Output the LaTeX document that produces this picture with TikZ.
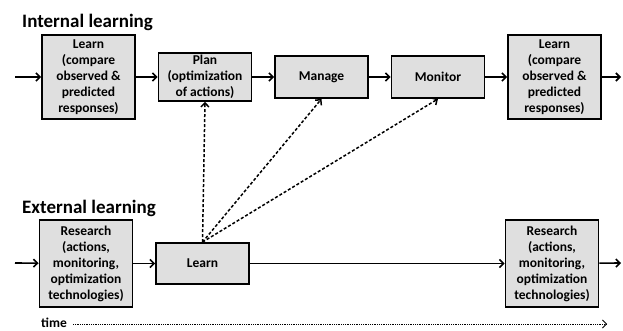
\documentclass[tikz,border=0pt]{standalone}
\usepackage{fontspec}
\setmainfont{Carlito}
\usetikzlibrary{shapes,arrows,arrows.meta,positioning}

\begin{document}
\begin{tikzpicture}[x=1pt, y=1pt, node distance=116.5pt, auto, >={Straight Barb[length=4pt,width=8pt]}]
    % Define styles
    \tikzstyle{stage} = [rectangle, minimum width=93pt, text centered, align=center, draw=black, line width=1.8pt, fill=gray!25, font=\bfseries\fontsize{13.5}{16}\selectfont, inner sep=1pt]
    \tikzstyle{flow} = [->, line width=1.6pt]
    \tikzstyle{link} = [->, line width=1.5pt, dash pattern=on 3pt off 2pt]
    \tikzstyle{heading} = [font=\bfseries\fontsize{19}{22}\selectfont, anchor=west, inner sep=0pt]

    \useasboundingbox (0,0) rectangle (623,-331);

    % Nodes
    \node[heading] (internal) at (22,-22) {Internal learning};
    \node[stage, minimum height=84pt] (learn_in) at (88.5,-77) {Learn\\(compare\\observed \&\\predicted\\responses)};
    \node[stage, minimum height=48pt, right of=learn_in] (plan) {Plan\\(optimization\\of actions)};
    \node[stage, minimum height=42pt, right of=plan] (manage) {Manage};
    \node[stage, minimum height=42pt, right of=manage] (monitor) {Monitor};
    \node[stage, minimum height=84pt, right of=monitor] (learn_next) {Learn\\(compare\\observed \&\\predicted\\responses)};
    \coordinate (in_start) at (15,-77);
    \coordinate (in_end) at (621,-77);

    \node[heading] (external) at (22,-208) {External learning};
    \node[stage, minimum height=87pt] (research) at (86,-263.5) {Research\\(actions,\\monitoring,\\optimization\\technologies)};
    \node[stage, minimum height=41pt, right of=research] (learn_ext) {Learn};
    \node[stage, minimum height=87pt, right of=learn_ext, xshift=233pt] (research_next) {Research\\(actions,\\monitoring,\\optimization\\technologies)};
    \coordinate (ex_start) at (15,-263);
    \coordinate (ex_end) at (621,-263);

    \node[font=\bfseries\fontsize{13.5}{15}\selectfont, inner sep=1pt] (time) at (54,-322.5) {time};
    \coordinate (time_end) at (607,-324);

    % Connections
    \draw[flow] (in_start) -- (learn_in);
    \draw[flow] (learn_in) -- (plan);
    \draw[flow] (plan) -- (manage);
    \draw[flow] (manage) -- (monitor);
    \draw[flow] (monitor) -- (learn_next);
    \draw[flow] (learn_next) -- (in_end);
    \draw[flow] (ex_start) -- (research);
    \draw[flow] (research) -- (learn_ext);
    \draw[flow] (learn_ext) -- (research_next);
    \draw[flow] (research_next) -- (ex_end);
    \draw[link] (learn_ext.north) -- (plan.south);
    \draw[link] (learn_ext.north) -- (manage.south);
    \draw[link] (learn_ext.north) -- (monitor.south);
    \draw[->, line width=0.8pt, densely dotted] ([xshift=5pt]time.east |- time_end) -- (time_end);
\end{tikzpicture}
\end{document}
